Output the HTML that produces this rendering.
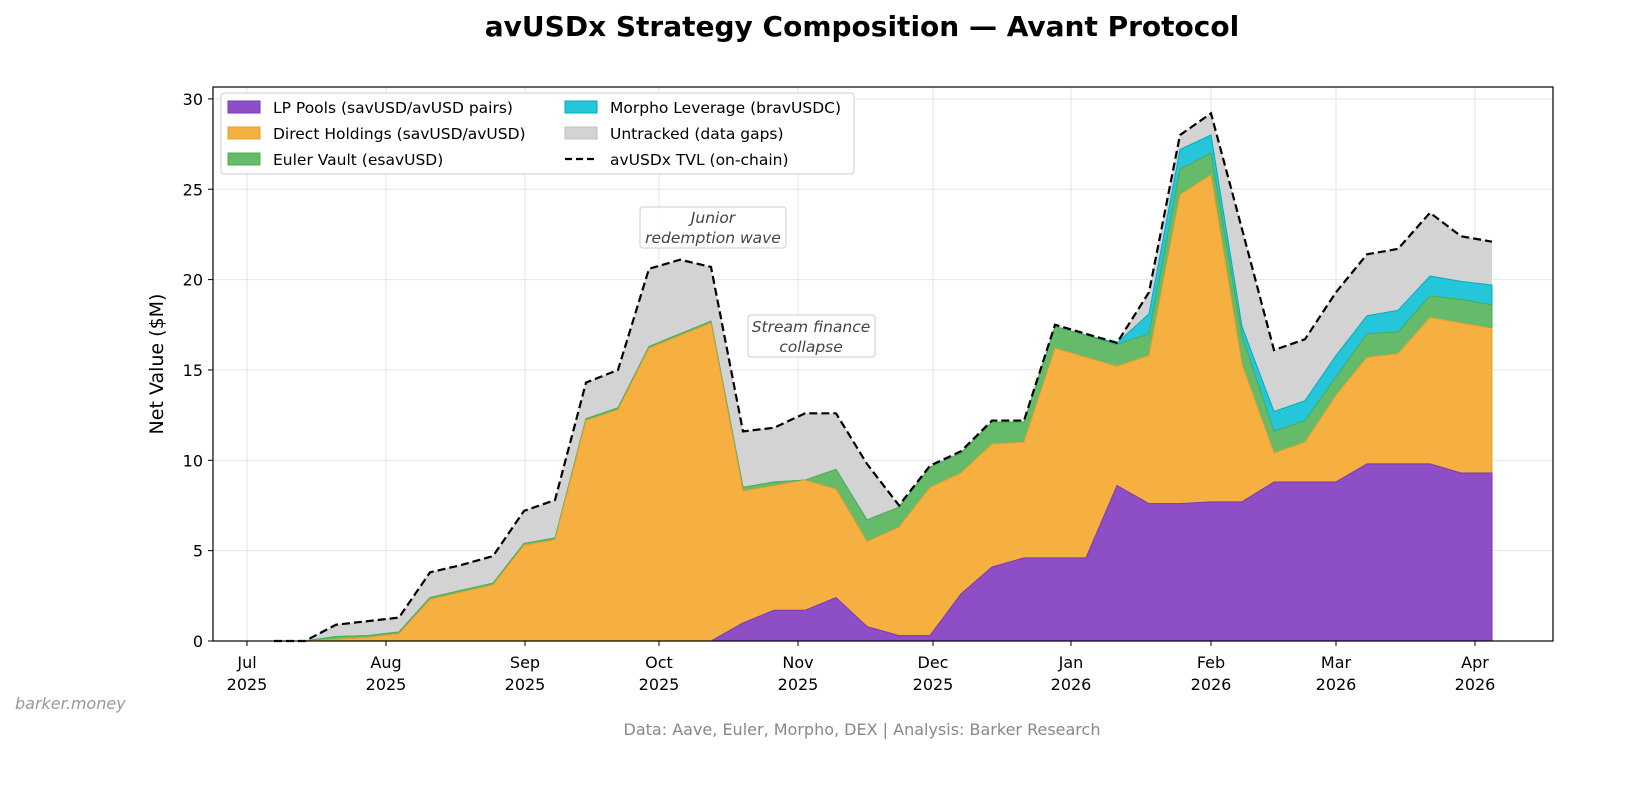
<!DOCTYPE html>
<html><head><meta charset="utf-8"><style>
body{margin:0;background:#fff;}
svg text{font-family:"DejaVu Sans","Liberation Sans",sans-serif;}
</style></head><body>
<svg id="s" width="1632" height="784" viewBox="0 0 1632 784" xmlns="http://www.w3.org/2000/svg">
<rect width="1632" height="784" fill="#fff"/>
<text x="862" y="36" text-anchor="middle" font-size="28" font-weight="bold">avUSDx Strategy Composition — Avant Protocol</text>
<g id="grid" stroke="#e6e6e6" stroke-width="1"></g>
<g id="areas"></g>
<rect x="213" y="87" width="1340" height="554" fill="none" stroke="#000" stroke-width="1.2"/>
<g id="ticks" font-size="16"></g>
<text x="0" y="0" transform="translate(163,364) rotate(-90)" text-anchor="middle" font-size="19">Net Value ($M)</text>
<g font-size="15.5" font-style="italic" fill="#444" text-anchor="middle">
<rect x="640" y="207" width="146" height="41" rx="3" fill="#fff" fill-opacity="0.85" stroke="#ccc"/>
<text x="713" y="223">Junior</text><text x="713" y="243">redemption wave</text>
<rect x="748" y="315" width="127" height="42" rx="3" fill="#fff" fill-opacity="0.85" stroke="#ccc"/>
<text x="811" y="332">Stream finance</text><text x="811" y="352">collapse</text>
</g>
<g font-size="15.5">
<rect x="221" y="93" width="633" height="81" rx="3" fill="#fff" stroke="#ccc"/>
<rect x="228" y="101" width="32" height="12" fill="#8e4ec6" stroke="#7a3ab5"/><text x="273" y="113">LP Pools (savUSD/avUSD pairs)</text>
<rect x="228" y="127" width="32" height="12" fill="#f5b041" stroke="#e8a030"/><text x="273" y="139">Direct Holdings (savUSD/avUSD)</text>
<rect x="228" y="153" width="32" height="12" fill="#66bb6a" stroke="#4caf50"/><text x="273" y="165">Euler Vault (esavUSD)</text>
<rect x="565" y="101" width="32" height="12" fill="#26c6da" stroke="#00acc1"/><text x="610" y="113">Morpho Leverage (bravUSDC)</text>
<rect x="565" y="127" width="32" height="12" fill="#d3d3d3" stroke="#c0c0c0"/><text x="610" y="139">Untracked (data gaps)</text>
<line x1="565" y1="159" x2="597" y2="159" stroke="#000" stroke-width="2.2" stroke-dasharray="7,4"/><text x="610" y="165">avUSDx TVL (on-chain)</text>
</g>
<text x="15" y="709" font-size="16" font-style="italic" fill="#999">barker.money</text>
<text x="862" y="735" text-anchor="middle" font-size="16" fill="#888">Data: Aave, Euler, Morpho, DEX | Analysis: Barker Research</text>
</svg>
<script>
const X=[274,305,336,368,399,430,461,493,524,555,586,618,649,680,711,743,774,805,836,867,899,930,961,992,1024,1055,1086,1117,1149,1180,1211,1242,1274,1305,1336,1367,1398,1430,1461,1492];
const LP=[0,0,0,0,0,0,0,0,0,0,0,0,0,0,0,1.0,1.7,1.7,2.4,0.8,0.3,0.3,2.6,4.1,4.6,4.6,4.6,8.6,7.6,7.6,7.7,7.7,8.8,8.8,8.8,9.8,9.8,9.8,9.3,9.3];
const DI=[0,0,0.1,0.2,0.4,2.3,2.7,3.1,5.3,5.6,12.2,12.8,16.2,16.9,17.6,8.3,8.6,8.9,8.4,5.5,6.3,8.5,9.3,10.9,11.0,16.2,15.7,15.2,15.8,24.7,25.8,15.3,10.4,11.0,13.6,15.7,15.9,17.9,17.6,17.3];
const EU=[0,0,0.25,0.3,0.5,2.4,2.8,3.2,5.4,5.7,12.3,12.9,16.3,17.0,17.7,8.5,8.8,8.9,9.5,6.7,7.4,9.6,10.4,12.1,12.1,17.4,16.9,16.4,17.0,26.1,27.0,16.9,11.6,12.2,14.6,17.0,17.1,19.1,18.9,18.6];
const MO=EU.map((v,i)=>v);const mo={27:16.5,28:18.1,29:27.2,30:28.0,31:17.4,32:12.7,33:13.3,34:15.8,35:18.0,36:18.3,37:20.2,38:19.9,39:19.7};for(const k in mo)MO[k]=mo[k];
const TV=[0,0,0.9,1.1,1.3,3.8,4.2,4.7,7.2,7.8,14.3,15.0,20.6,21.1,20.7,11.6,11.8,12.6,12.6,9.8,7.5,9.7,10.5,12.2,12.2,17.5,17.0,16.5,19.3,28.0,29.2,22.8,16.1,16.7,19.3,21.4,21.7,23.7,22.4,22.1];
const Y=v=>641-v*18.07;const NS="http://www.w3.org/2000/svg";
function el(p,t,a){const e=document.createElementNS(NS,t);for(const k in a)e.setAttribute(k,a[k]);p.appendChild(e);return e;}
const g=document.getElementById('grid'),ar=document.getElementById('areas'),tk=document.getElementById('ticks');
const xt=[[247,'Jul'],[386,'Aug'],[525,'Sep'],[659,'Oct'],[798,'Nov'],[933,'Dec'],[1071,'Jan'],[1211,'Feb'],[1336,'Mar'],[1475,'Apr']];
xt.forEach(([x,m],i)=>{el(g,'line',{x1:x,x2:x,y1:87,y2:641});el(tk,'line',{x1:x,x2:x,y1:641,y2:646,stroke:'#000'});
const t=el(tk,'text',{x:x,y:668,'text-anchor':'middle'});t.textContent=m;const t2=el(tk,'text',{x:x,y:690,'text-anchor':'middle'});t2.textContent=i<6?'2025':'2026';});
for(let v=0;v<=30;v+=5){const y=Y(v);el(g,'line',{x1:213,x2:1553,y1:y,y2:y});el(tk,'line',{x1:208,x2:213,y1:y,y2:y,stroke:'#000'});const t=el(tk,'text',{x:203,y:y+6,'text-anchor':'end'});t.textContent=v;}
function band(lo,hi,fill,stroke){let d='M'+X.map((x,i)=>x+','+Y(hi[i])).join('L');for(let i=X.length-1;i>=0;i--)d+='L'+X[i]+','+Y(lo[i]);el(ar,'path',{d:d+'Z',fill:fill,stroke:stroke,'stroke-width':1});}
const Z=X.map(()=>0);
band(MO,TV,'#d3d3d3','none');band(EU,MO,'#26c6da','#00acc1');band(DI,EU,'#66bb6a','#4caf50');band(LP,DI,'#f5b041','#e8a030');band(Z,LP,'#8e4ec6','#7a3ab5');
el(ar,'path',{d:'M'+X.map((x,i)=>x+','+Y(TV[i])).join('L'),fill:'none',stroke:'#000','stroke-width':2.2,'stroke-dasharray':'8,4'});
</script>
</body></html>
